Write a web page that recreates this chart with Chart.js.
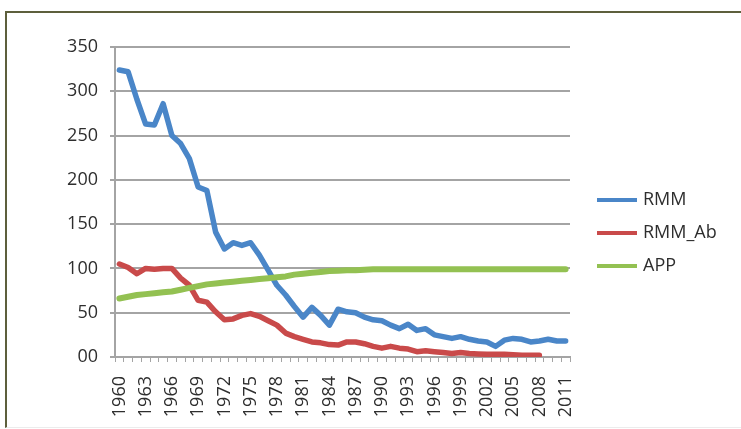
<!DOCTYPE html>
<html>
<head>
<meta charset="utf-8">
<script src="https://cdn.jsdelivr.net/npm/chart.js@4.4.1/dist/chart.umd.min.js"></script>
<style>
  html, body { margin: 0; padding: 0; background: #fff; }
  #wrap { position: relative; width: 741px; height: 429px; overflow: hidden; background: #fff; }
  #frame { position: absolute; left: 5px; top: 11px; width: 760px; height: 414px;
           border-top: 2px solid #5d5f3c; border-left: 2px solid #5d5f3c; border-bottom: 1px solid #ececec; }
  canvas { position: absolute; left: 0; top: 0; }
</style>
</head>
<body>
<div id="wrap">
  <div id="frame"></div>
  <canvas id="c" width="741" height="429"></canvas>
</div>
<script>
// Years 1960–2011
const years = [];
for (let y = 1960; y <= 2011; y++) years.push(String(y));

const rmm = [
  324, 322, 291, 263, 262, 286, 250, 241, 224, 192,
  188, 141, 122, 129, 126, 129, 115, 98, 81, 70,
  57, 45, 56, 47, 36, 54, 51, 50, 45, 42,
  41, 36, 32, 37, 30, 32, 25, 23, 21, 23,
  20, 18, 17, 12, 19, 21, 20, 17, 18, 20,
  18, 18
];

const rmmAb = [
  105, 101, 94, 100, 99, 100, 100, 89, 81, 64,
  62, 51, 42, 43, 47, 49, 46, 41, 36, 27,
  23, 20, 17, 16, 14, 13.5, 17, 17, 15, 12,
  10, 12, 10, 9, 6, 7, 6, 5, 4, 5,
  4, 3.5, 3, 3, 3, 2.5, 2, 2, 2, null,
  null, null
];

const app = [
  66, 68, 70, 71, 72, 73, 74, 76, 78, 80,
  82, 83, 84, 85, 86, 87, 88, 89, 90, 91,
  93, 94, 95, 96, 97, 97.5, 98, 98, 98.5, 99,
  99, 99, 99, 99, 99, 99, 99, 99, 99, 99,
  99, 99, 99, 99, 99, 99, 99, 99, 99, 99,
  99, 99
];

const yTicks = [0, 50, 100, 150, 200, 250, 300, 350];

const seriesNames = ['RMM', 'RMM_Ab', 'APP'];
const seriesColors = ['#4a86c8', '#c94a4a', '#93c152'];

const FONT = '"Open Sans", "Noto Sans", sans-serif';
const TEXT = '#2e2e2e';
const GRID = '#a4a4a4';

// Legend drawn to the right of the plot
const sideLegend = {
  id: 'sideLegend',
  afterDraw(chart) {
    const ctx = chart.ctx;
    const rows = [200, 233, 266];
    ctx.save();
    chart.data.datasets.forEach((ds, i) => {
      const y = rows[i];
      ctx.strokeStyle = ds.borderColor;
      ctx.lineWidth = 4;
      ctx.lineCap = 'butt';
      ctx.beginPath();
      ctx.moveTo(597, y);
      ctx.lineTo(637, y);
      ctx.stroke();
      ctx.fillStyle = TEXT;
      ctx.font = '18px ' + FONT;
      ctx.textBaseline = 'middle';
      ctx.textAlign = 'left';
      ctx.fillText(ds.label, 643, y);
    });
    ctx.restore();
  }
};

const makeSet = (i, data, order, width) => ({
  label: seriesNames[i],
  data: data,
  borderColor: seriesColors[i],
  backgroundColor: seriesColors[i],
  borderWidth: width,
  pointRadius: 0,
  tension: 0,
  borderJoinStyle: 'round',
  borderCapStyle: 'round',
  spanGaps: false,
  order: order
});

new Chart(document.getElementById('c'), {
  type: 'line',
  data: {
    labels: years,
    datasets: [
      makeSet(0, rmm, 2, 5.5),
      makeSet(1, rmmAb, 1, 5.5),
      makeSet(2, app, 0, 6)
    ]
  },
  options: {
    responsive: false,
    animation: false,
    events: [],
    layout: { padding: { left: 0, top: 47, right: 171, bottom: 0 } },
    plugins: {
      legend: { display: false },
      tooltip: { enabled: false }
    },
    scales: {
      x: {
        offset: true,
        afterFit: s => { s.height = 72; },
        grid: {
          offset: true,
          drawOnChartArea: false,
          drawTicks: true,
          tickLength: 5,
          color: GRID,
          lineWidth: 1
        },
        border: { display: true, color: GRID, width: 2 },
        ticks: {
          autoSkip: false,
          maxRotation: 90,
          minRotation: 90,
          padding: 14,
          color: TEXT,
          font: { family: FONT, size: 18 },
          callback: function (v, i) { return i % 3 === 0 ? this.getLabelForValue(v) : ''; }
        }
      },
      y: {
        min: yTicks[0],
        max: yTicks[yTicks.length - 1],
        afterFit: s => { s.width = 115; },
        afterBuildTicks: s => { s.ticks = yTicks.map(v => ({ value: v })); },
        grid: {
          color: GRID,
          lineWidth: 2,
          drawTicks: true,
          tickLength: 5
        },
        border: { display: true, color: GRID, width: 2 },
        ticks: {
          padding: 12,
          color: TEXT,
          font: { family: FONT, size: 18 },
          callback: v => String(v).padStart(2, '0')
        }
      }
    }
  },
  plugins: [sideLegend]
});
</script>
</body>
</html>
